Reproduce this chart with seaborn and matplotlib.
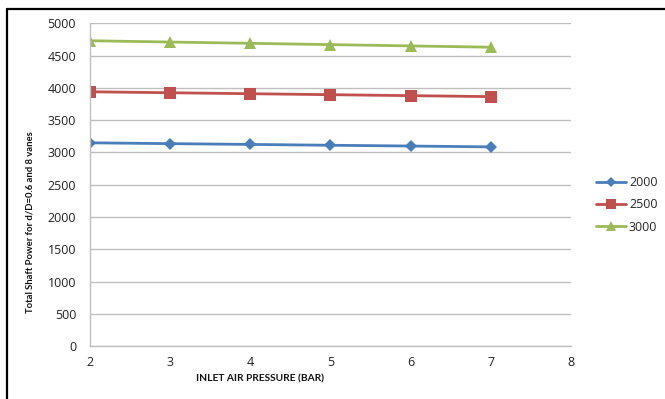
import matplotlib
matplotlib.use("Agg")
import matplotlib.pyplot as plt
from matplotlib.lines import Line2D
import seaborn as sns
import pandas as pd

pressure = [2, 3, 4, 5, 6, 7]
series_names = ["2000", "2500", "3000"]
power_2000 = [3150, 3137, 3125, 3112, 3100, 3087]
power_2500 = [3940, 3925, 3910, 3895, 3880, 3865]
power_3000 = [4730, 4710, 4690, 4670, 4650, 4630]
x_ticks = [2, 3, 4, 5, 6, 7, 8]
y_ticks = [0, 500, 1000, 1500, 2000, 2500, 3000, 3500, 4000, 4500, 5000]

rows = []
for name, vals in zip(series_names, [power_2000, power_2500, power_3000]):
    for p, v in zip(pressure, vals):
        rows.append({"pressure": p, "power": v, "speed": name})
df = pd.DataFrame(rows)

sns.set_theme(style="white")
plt.rcParams["font.family"] = ["Open Sans", "DejaVu Sans"]

fig = plt.figure(figsize=(6.65, 3.99), dpi=100)
ax = fig.add_axes([0.1353, 0.1321, 0.7233, 0.8095])

palette = {"2000": "#4A7EBB", "2500": "#C0504D", "3000": "#9BBB59"}
markers = {"2000": "D", "2500": "s", "3000": "^"}
sizes_map = {"2000": 6, "2500": 8, "3000": 8.5}

sns.lineplot(data=df, x="pressure", y="power", hue="speed", style="speed",
             palette=palette, markers=markers, dashes=False, linewidth=2,
             markersize=8, markeredgewidth=0, ax=ax, legend=False)
for line, name in zip(ax.get_lines(), series_names):
    line.set_markersize(sizes_map[name])

ax.set_xlim(2, 8)
ax.set_ylim(0, 5000)
ax.set_xticks(x_ticks)
ax.set_yticks(y_ticks)
ax.set_xticklabels([str(t) for t in x_ticks], fontsize=9, color="#222222")
ax.set_yticklabels([str(t) for t in y_ticks], fontsize=9, color="#222222")
ax.yaxis.grid(True, color="#BFBFBF", linewidth=1)
ax.xaxis.grid(False)
for s in ["top", "right"]:
    ax.spines[s].set_visible(False)
for s in ["left", "bottom"]:
    ax.spines[s].set_color("#BFBFBF")
    ax.spines[s].set_linewidth(1)
ax.tick_params(axis="y", length=3, color="#BFBFBF", pad=7)
ax.tick_params(axis="x", length=0, pad=7)
ax.set_xlabel("")
ax.set_ylabel("")

fig.text(0.391, 0.050, "INLET AIR PRESSURE (BAR)", family=["Lato", "DejaVu Sans"],
         fontsize=7.3, fontweight="bold", ha="center", va="center", color="#111111")
fig.text(0.045, 0.444, "Total Shaft Power for d/D=0.6 and 8 vanes", family=["Lato", "DejaVu Sans"],
         fontsize=6.8, fontweight="bold", rotation=90, ha="center", va="center", color="#111111")

handles = [Line2D([0], [0], color=palette[n], marker=markers[n], linewidth=2,
                  markersize=sizes_map[n] - 1, markeredgewidth=0) for n in series_names]
fig.legend(handles, series_names, loc="center left", bbox_to_anchor=(0.880, 0.4865),
           frameon=False, fontsize=9, handlelength=2.4, labelspacing=0.75,
           handletextpad=0.2)

# outer frame (top and left)
fig.add_artist(Line2D([0.0105, 1.0], [0.9767, 0.9767], transform=fig.transFigure,
                      color="black", linewidth=1.6))
fig.add_artist(Line2D([0.0105, 0.0105], [0.0, 0.9767], transform=fig.transFigure,
                      color="black", linewidth=1.6))

fig.savefig("out.png", dpi=100)
